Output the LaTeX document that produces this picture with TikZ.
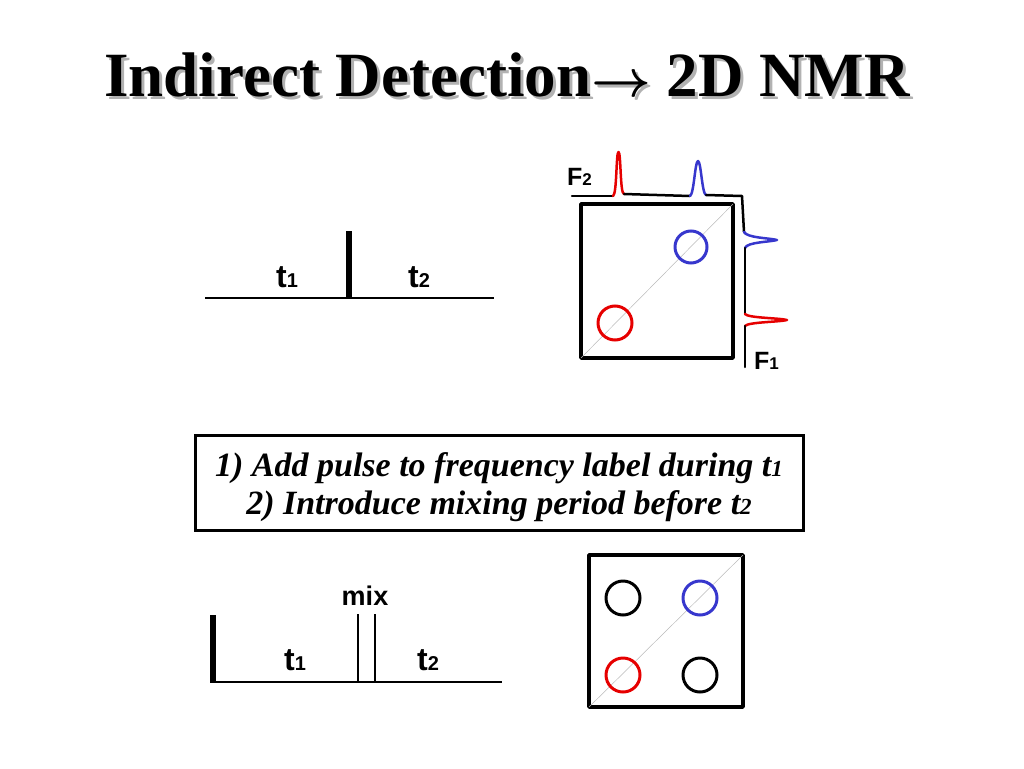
\RequirePackage{fix-cm}
\documentclass[tikz,border=0pt]{standalone}
\usepackage{fontspec}
\setmainfont{Liberation Serif}
\newfontfamily\arial{Liberation Sans}
\definecolor{nmrred}{RGB}{230,0,0}
\definecolor{nmrblue}{RGB}{55,55,205}
\newcommand{\tsub}[1]{t{\fontsize{20}{20}\selectfont #1}}
\newcommand{\fsub}[1]{F{\fontsize{17}{17}\selectfont #1}}
\newcommand{\titlearrow}{{\fontsize{52}{52}\selectfont\boldmath$\rightarrow$}}
\begin{document}
\begin{tikzpicture}[x=1pt,y=-1pt,
  seqline/.style={line width=2pt},
  hardpulse/.style={line width=6pt},
  softpulse/.style={line width=2pt},
  frametwod/.style={line width=3.5pt, line join=round},
  diagline/.style={gray!55, line width=0.5pt},
  ring/.style={line width=3pt},
  trace/.style={line width=2.5pt, line join=round, line cap=round},
  tlabel/.style={font=\arial\bfseries\fontsize{32}{32}\selectfont, inner sep=0pt, anchor=base west},
  flabel/.style={font=\arial\bfseries\fontsize{25}{25}\selectfont, inner sep=0pt, anchor=base west},
  titletext/.style={font=\bfseries\fontsize{63}{63}\selectfont, inner sep=0pt, anchor=base west},
  boxtext/.style={font=\bfseries\itshape\fontsize{34}{34}\selectfont, inner sep=0pt, anchor=base},
]
\useasboundingbox (0,0) rectangle (1024,768);

% title
\node[titletext, text=black!30] (titleshadow) at (107,99) {Indirect Detection\titlearrow\ 2D NMR};
\node[titletext] (title) at (104,96) {Indirect Detection\titlearrow\ 2D NMR};

% top pulse sequence
\coordinate (s1a) at (205,298);
\coordinate (s1b) at (494,298);
\draw[seqline] (s1a) -- (s1b);
\coordinate (p1a) at (349,231);
\coordinate (p1b) at (349,299);
\draw[hardpulse] (p1a) -- (p1b);
\node[tlabel] (t1top) at (276,287) {\tsub{1}};
\node[tlabel] (t2top) at (408,287) {\tsub{2}};

% top 2D spectrum
\draw[frametwod] (581,204) rectangle (733,358);
\draw[diagline] (581,358) -- (733,204);
\draw[ring, nmrblue] (691,247) circle (16);
\draw[ring, nmrred] (615,323) circle (17);
% F2 trace
\draw[trace] (572,196) -- (613,196);
\draw[trace, nmrred] (613,196) .. controls (617,194) and (616,152) .. (618.5,152) .. controls (621,152) and (620,194) .. (624,194);
\draw[trace] (624,194) -- (690,196);
\draw[trace, nmrblue] (690,196) .. controls (694,194) and (695,161) .. (698,161) .. controls (701,161) and (702,194) .. (706,195);
\draw[trace] (706,195) -- (742,196) -- (744,232);
% F1 trace
\draw[trace, nmrblue] (744,232) .. controls (747,238) and (770,238) .. (777,240) .. controls (770,242) and (747,242) .. (745,248);
\draw[trace] (745,248) -- (745,314);
\draw[trace, nmrred] (745,314) .. controls (748,318) and (780,318) .. (787,320) .. controls (780,322) and (748,322) .. (745,326);
\draw[trace] (745,326) -- (745,367);
\node[flabel] (F2) at (567,185) {\fsub{2}};
\node[flabel] (F1) at (754,369) {\fsub{1}};

% text box
\draw[line width=3pt] (195,435) rectangle (803,530);
\node[boxtext] (line1) at (499,476) {1) Add pulse to frequency label during t{\fontsize{23}{23}\selectfont 1}};
\node[boxtext] (line2) at (499,514) {2) Introduce mixing period before t{\fontsize{23}{23}\selectfont 2}};

% bottom pulse sequence
\draw[seqline] (212,682) -- (502,682);
\draw[hardpulse] (213,615) -- (213,683);
\draw[softpulse] (358,614) -- (358,682);
\draw[softpulse] (375,614) -- (375,682);
\node[font=\arial\bfseries\fontsize{27}{27}\selectfont, inner sep=0pt, anchor=base] (mix) at (365,605) {mix};
\node[tlabel] (t1bot) at (284,670) {\tsub{1}};
\node[tlabel] (t2bot) at (417,670) {\tsub{2}};

% bottom 2D spectrum
\draw[frametwod] (589,555) rectangle (743,707);
\draw[diagline] (589,707) -- (743,555);
\draw[ring] (623,598) circle (17);
\draw[ring, nmrblue] (700,598) circle (17);
\draw[ring, nmrred] (623,675) circle (17);
\draw[ring] (700,675) circle (17);
\end{tikzpicture}
\end{document}
